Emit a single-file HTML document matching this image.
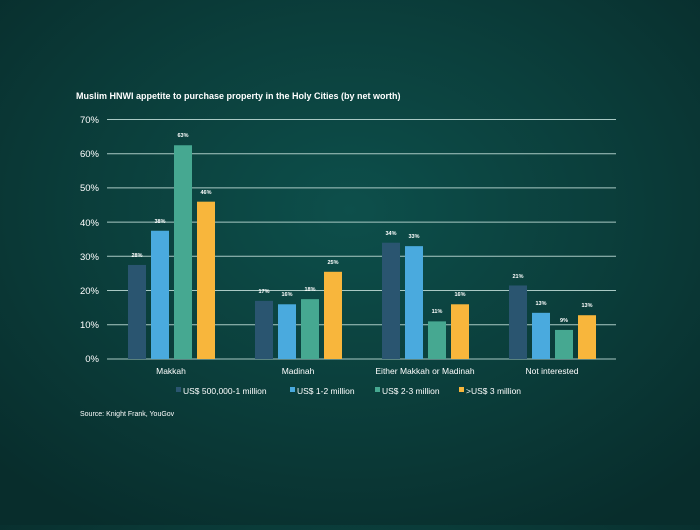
<!DOCTYPE html>
<html><head><meta charset="utf-8"><style>
html,body{margin:0;padding:0}
body{width:700px;height:525px;overflow:hidden;background:radial-gradient(ellipse 70% 70% at 50% 40%,#0d4f4b 0%,#0b3f3c 50%,#082d2c 100%);font-family:"Liberation Sans",sans-serif;}
</style></head><body>
<svg width="700" height="525" xmlns="http://www.w3.org/2000/svg" font-family="Liberation Sans, sans-serif">
<text x="76" y="99" fill="#ffffff" font-size="9" font-weight="bold">Muslim  HNWI appetite to purchase property in the Holy Cities (by net worth)</text>
<g stroke="#a9c9c4" stroke-width="1">
<line x1="107" x2="616" y1="119.5" y2="119.5"/><line x1="107" x2="616" y1="153.7" y2="153.7"/>
<line x1="107" x2="616" y1="187.9" y2="187.9"/><line x1="107" x2="616" y1="222.1" y2="222.1"/>
<line x1="107" x2="616" y1="256.3" y2="256.3"/><line x1="107" x2="616" y1="290.5" y2="290.5"/>
<line x1="107" x2="616" y1="324.7" y2="324.7"/><line x1="107" x2="616" y1="359" y2="359"/>
</g>
<g fill="#ffffff" font-size="9.5" text-anchor="end">
<text x="99" y="123">70%</text><text x="99" y="157">60%</text><text x="99" y="191">50%</text>
<text x="99" y="226">40%</text><text x="99" y="260">30%</text><text x="99" y="294">20%</text>
<text x="99" y="328">10%</text><text x="99" y="362">0%</text>
</g>
<g>
<rect x="128" y="264.95" width="18" height="94.05" fill="#2a5570"/>
<rect x="151" y="230.75" width="18" height="128.25" fill="#4aaade"/>
<rect x="174" y="145.25" width="18" height="213.75" fill="#46a891"/>
<rect x="197" y="201.68" width="18" height="157.32" fill="#f8b63c"/>
<rect x="255" y="300.86" width="18" height="58.14" fill="#2a5570"/>
<rect x="278" y="304.28" width="18" height="54.72" fill="#4aaade"/>
<rect x="301" y="299.15" width="18" height="59.85" fill="#46a891"/>
<rect x="324" y="271.79" width="18" height="87.21" fill="#f8b63c"/>
<rect x="382" y="242.72" width="18" height="116.28" fill="#2a5570"/>
<rect x="405" y="246.14" width="18" height="112.86" fill="#4aaade"/>
<rect x="428" y="321.38" width="18" height="37.62" fill="#46a891"/>
<rect x="451" y="304.28" width="18" height="54.72" fill="#f8b63c"/>
<rect x="509" y="285.47" width="18" height="73.53" fill="#2a5570"/>
<rect x="532" y="312.83" width="18" height="46.17" fill="#4aaade"/>
<rect x="555" y="329.93" width="18" height="29.07" fill="#46a891"/>
<rect x="578" y="315.22" width="18" height="43.78" fill="#f8b63c"/>
</g>
<g fill="#ffffff" font-size="5.5" font-weight="bold" text-anchor="middle">
<text x="137" y="257">28%</text><text x="160" y="223">38%</text><text x="183" y="137">63%</text><text x="206" y="194">46%</text>
<text x="264" y="293">17%</text><text x="287" y="296">16%</text><text x="310" y="291">18%</text><text x="333" y="264">25%</text>
<text x="391" y="235">34%</text><text x="414" y="238">33%</text><text x="437" y="313">11%</text><text x="460" y="296">16%</text>
<text x="518" y="278">21%</text><text x="541" y="305">13%</text><text x="564" y="322">9%</text><text x="587" y="307">13%</text>
</g>
<g fill="#ffffff" font-size="8.5" text-anchor="middle">
<text x="171" y="374">Makkah</text><text x="298" y="374">Madinah</text>
<text x="425" y="374">Either Makkah or Madinah</text><text x="552" y="374">Not interested</text>
</g>
<g font-size="8.5" fill="#ffffff">
<rect x="176" y="387" width="5" height="5" fill="#2a5570"/><text x="183" y="394">US$ 500,000-1 million</text>
<rect x="290" y="387" width="5" height="5" fill="#4aaade"/><text x="297" y="394">US$ 1-2 million</text>
<rect x="375" y="387" width="5" height="5" fill="#46a891"/><text x="382" y="394">US$ 2-3 million</text>
<rect x="459" y="387" width="5" height="5" fill="#f8b63c"/><text x="466" y="394">&gt;US$ 3 million</text>
</g>
<text x="80" y="416" fill="#ffffff" font-size="7">Source: Knight Frank, YouGov</text>
</svg>
</body></html>
